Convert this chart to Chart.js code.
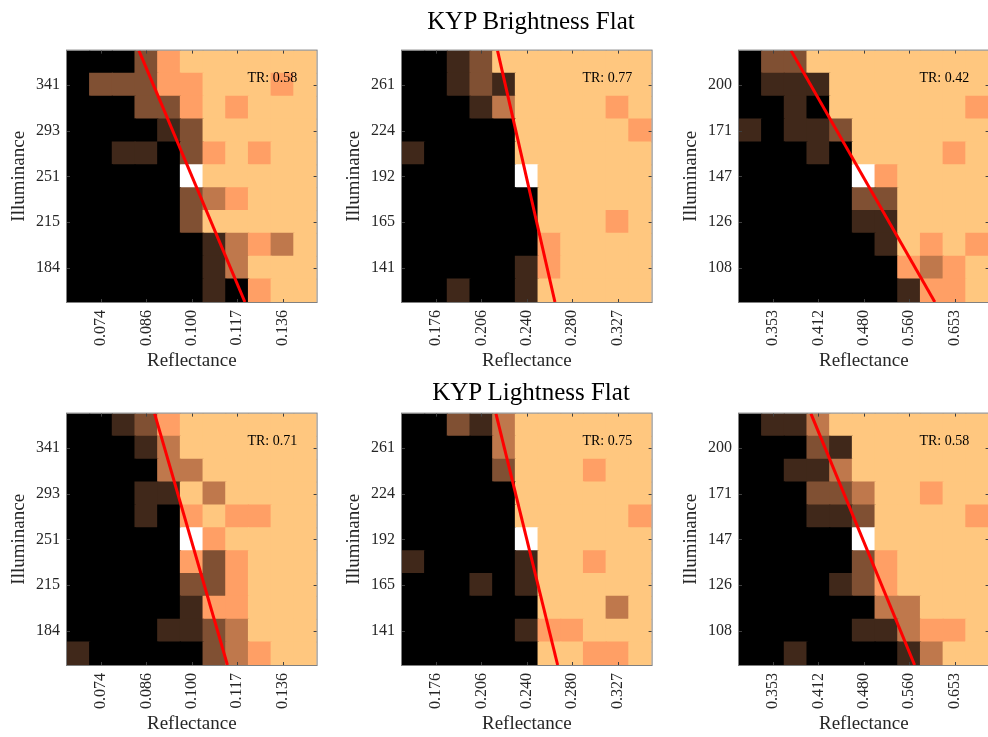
<!DOCTYPE html>
<html>
<head>
<meta charset="utf-8">
<script src="https://cdn.jsdelivr.net/npm/chart.js@4.4.1/dist/chart.umd.min.js"></script>
<style>
html, body { margin: 0; padding: 0; width: 988px; height: 737px; overflow: hidden; background: #fff; }
canvas { position: absolute; }
.suptitle { position: absolute; left: 281px; width: 500px; text-align: center;
  font: 25px/30px "Liberation Serif", "Times New Roman", serif; color: #000; z-index: 2; }
</style>
</head>
<body>
<div class="suptitle" style="top:6px">KYP Brightness Flat</div>
<div class="suptitle" style="top:377px">KYP Lightness Flat</div>
<script>
// cell levels 0..5 (copper map), rows top -> bottom; null = reference cell (white)
const brightA = [
  [0,0,0,2,4,5,5,5,5,5,5],
  [0,2,2,2,4,4,5,5,5,4,5],
  [0,0,0,2,2,4,5,4,5,5,5],
  [0,0,0,0,1,2,5,5,5,5,5],
  [0,0,1,1,0,2,4,5,4,5,5],
  [0,0,0,0,0,null,5,5,5,5,5],
  [0,0,0,0,0,2,3,4,5,5,5],
  [0,0,0,0,0,2,5,5,5,5,5],
  [0,0,0,0,0,0,1,3,4,3,5],
  [0,0,0,0,0,0,1,3,5,5,5],
  [0,0,0,0,0,0,1,0,4,5,5]
];
const brightB = [
  [0,0,1,2,5,5,5,5,5,5,5],
  [0,0,1,2,1,5,5,5,5,5,5],
  [0,0,0,1,3,5,5,5,5,4,5],
  [0,0,0,0,0,5,5,5,5,5,4],
  [1,0,0,0,0,5,5,5,5,5,5],
  [0,0,0,0,0,null,5,5,5,5,5],
  [0,0,0,0,0,0,5,5,5,5,5],
  [0,0,0,0,0,0,5,5,5,4,5],
  [0,0,0,0,0,0,4,5,5,5,5],
  [0,0,0,0,0,1,4,5,5,5,5],
  [0,0,1,0,0,1,5,5,5,5,5]
];
const brightC = [
  [0,2,2,5,5,5,5,5,5,5,5],
  [0,1,1,1,5,5,5,5,5,5,5],
  [0,0,1,0,5,5,5,5,5,5,4],
  [1,0,1,1,2,5,5,5,5,5,5],
  [0,0,0,1,0,5,5,5,5,4,5],
  [0,0,0,0,0,null,4,5,5,5,5],
  [0,0,0,0,0,2,2,5,5,5,5],
  [0,0,0,0,0,1,1,5,5,5,5],
  [0,0,0,0,0,0,1,5,4,5,4],
  [0,0,0,0,0,0,0,4,3,4,5],
  [0,0,0,0,0,0,0,1,4,4,5]
];
const lightA = [
  [0,0,1,2,4,5,5,5,5,5,5],
  [0,0,0,1,3,5,5,5,5,5,5],
  [0,0,0,0,3,3,5,5,5,5,5],
  [0,0,0,1,1,5,3,5,5,5,5],
  [0,0,0,1,0,4,5,4,4,5,5],
  [0,0,0,0,0,null,4,5,5,5,5],
  [0,0,0,0,0,4,2,4,5,5,5],
  [0,0,0,0,0,2,2,4,5,5,5],
  [0,0,0,0,0,1,4,4,5,5,5],
  [0,0,0,0,1,1,2,3,5,5,5],
  [1,0,0,0,0,0,2,3,4,5,5]
];
const lightB = [
  [0,0,2,1,3,5,5,5,5,5,5],
  [0,0,0,0,3,5,5,5,5,5,5],
  [0,0,0,0,2,5,5,5,4,5,5],
  [0,0,0,0,0,5,5,5,5,5,5],
  [0,0,0,0,0,5,5,5,5,5,4],
  [0,0,0,0,0,null,5,5,5,5,5],
  [1,0,0,0,0,1,5,5,4,5,5],
  [0,0,0,1,0,1,5,5,5,5,5],
  [0,0,0,0,0,0,5,5,5,3,5],
  [0,0,0,0,0,1,4,4,5,5,5],
  [0,0,0,0,0,0,5,5,4,4,5]
];
const lightC = [
  [0,1,1,3,5,5,5,5,5,5,5],
  [0,0,0,2,1,5,5,5,5,5,5],
  [0,0,1,1,3,5,5,5,5,5,5],
  [0,0,0,2,2,3,5,5,4,5,5],
  [0,0,0,1,1,2,5,5,5,5,4],
  [0,0,0,0,0,null,5,5,5,5,5],
  [0,0,0,0,0,2,4,5,5,5,5],
  [0,0,0,0,1,2,4,5,5,5,5],
  [0,0,0,0,0,0,3,3,5,5,5],
  [0,0,0,0,0,1,1,3,4,4,5],
  [0,0,1,0,0,0,0,1,3,5,5]
];

// tick labels (illuminance top -> bottom, reflectance left -> right)
const illumA = ['341', '293', '251', '215', '184'];
const illumB = ['261', '224', '192', '165', '141'];
const illumC = ['200', '171', '147', '126', '108'];
const reflA = ['0.074', '0.086', '0.100', '0.117', '0.136'];
const reflB = ['0.176', '0.206', '0.240', '0.280', '0.327'];
const reflC = ['0.353', '0.412', '0.480', '0.560', '0.653'];

const trValues = [0.58, 0.77, 0.42, 0.71, 0.75, 0.58];
// fitted line: column position where it meets top and bottom edge
const lineTopX = [3.17, 4.21, 2.29, 3.86, 4.14, 3.17];
const lineBottomX = [7.84, 6.74, 8.63, 7.07, 6.86, 7.74];

const copper = ['#000000', '#40281a', '#805033', '#bf784c', '#ff9f65', '#ffc77f'];
const FONT = '"Liberation Serif", "Times New Roman", serif';
const TXT = '#262626';

const PW = 254, PH = 256, YW = 67, XH = 72, PT = 12, PR = 12;
const spots = [[67, 46], [402, 46], [739, 46], [67, 409], [402, 409], [739, 409]];

const panelDecor = {
    id: 'panelDecor',
    afterDatasetsDraw(chart, args, opts) {
        const { ctx, chartArea: a, scales } = chart;
        ctx.save();
        ctx.strokeStyle = '#808080';
        ctx.lineWidth = 1;
        ctx.strokeRect(a.left - 0.5, a.top - 0.5, a.width + 1, a.height + 1);
        ctx.strokeStyle = '#404040';
        ctx.beginPath();
        scales.y.ticks.forEach(t => {
            const y = Math.round(scales.y.getPixelForValue(t.value)) + 0.5;
            ctx.moveTo(a.left, y); ctx.lineTo(a.left + 3, y);
            ctx.moveTo(a.right, y); ctx.lineTo(a.right - 3, y);
        });
        scales.x.ticks.forEach((t, i) => {
            if (!scales.x.getLabelForValue(t.value)) return;
            const x = Math.round(scales.x.getPixelForTick(i)) + 0.5;
            ctx.moveTo(x, a.top); ctx.lineTo(x, a.top + 3);
            ctx.moveTo(x, a.bottom); ctx.lineTo(x, a.bottom - 3);
        });
        ctx.stroke();
        ctx.font = '14px ' + FONT;
        ctx.fillStyle = '#000';
        ctx.textAlign = 'center';
        ctx.textBaseline = 'middle';
        ctx.fillText(opts.text, scales.xl.getPixelForValue(opts.at[0]), scales.yl.getPixelForValue(opts.at[1]));
        ctx.restore();
    }
};

function makePanel(i, grid, yLabels, xLabels) {
    const [px, py] = spots[i];
    const cv = document.createElement('canvas');
    cv.width = YW + PW + PR;
    cv.height = PT + PH + XH;
    cv.style.left = (px - YW) + 'px';
    cv.style.top = (py - PT) + 'px';
    document.body.appendChild(cv);

    const n = grid.length;
    const cats = grid[0].map((_, c) => c % 2 === 1 ? xLabels[(c - 1) / 2] : '');
    const yVals = yLabels.map((_, k) => n - (2 * k + 1) - 0.5);

    const cellSets = grid.slice().reverse().map(row => ({
        type: 'bar',
        data: row.map(() => 1),
        backgroundColor: row.map(v => v === null ? '#ffffff' : copper[v]),
        borderWidth: 0,
        barPercentage: 1,
        categoryPercentage: 1,
        inflateAmount: 0.6,
        grouped: false
    }));

    new Chart(cv.getContext('2d'), {
        type: 'bar',
        data: {
            labels: cats,
            datasets: cellSets.concat([{
                type: 'line',
                data: [{ x: lineTopX[i], y: n }, { x: lineBottomX[i], y: 0 }],
                xAxisID: 'xl',
                yAxisID: 'yl',
                borderColor: '#ff0000',
                borderWidth: 3,
                pointRadius: 0,
                clip: 0,
                order: -1
            }])
        },
        options: {
            responsive: false,
            animation: false,
            events: [],
            layout: { padding: { top: PT, right: PR, left: 0, bottom: 0 } },
            scales: {
                x: {
                    type: 'category',
                    stacked: true,
                    offset: true,
                    afterFit: s => { s.height = XH; },
                    grid: { display: false, drawTicks: false },
                    border: { display: false },
                    ticks: { autoSkip: false, minRotation: 90, maxRotation: 90, padding: 8,
                        color: TXT, font: { family: FONT, size: 16 } },
                    title: { display: true, text: 'Reflectance', color: TXT,
                        font: { family: FONT, size: 19 }, padding: { top: 0, bottom: 2 } }
                },
                y: {
                    type: 'linear',
                    stacked: true,
                    min: 0,
                    max: n,
                    afterBuildTicks: s => { s.ticks = yVals.slice().reverse().map(v => ({ value: v })); },
                    afterFit: s => { s.width = YW; },
                    grid: { display: false, drawTicks: false },
                    border: { display: false },
                    ticks: { autoSkip: false, padding: 7, color: TXT, font: { family: FONT, size: 16 },
                        callback: v => yLabels[yVals.indexOf(v)] },
                    title: { display: true, text: 'Illuminance', color: TXT,
                        font: { family: FONT, size: 19 }, padding: { top: 8, bottom: 0 } }
                },
                xl: { type: 'linear', min: 0, max: n, offset: false, display: false },
                yl: { type: 'linear', min: 0, max: n, offset: false, display: false }
            },
            plugins: {
                legend: { display: false },
                tooltip: { enabled: false },
                panelDecor: { text: 'TR: ' + trValues[i].toFixed(2), at: [9.05, 9.78] }
            }
        },
        plugins: [panelDecor]
    });
}

makePanel(0, brightA, illumA, reflA);
makePanel(1, brightB, illumB, reflB);
makePanel(2, brightC, illumC, reflC);
makePanel(3, lightA, illumA, reflA);
makePanel(4, lightB, illumB, reflB);
makePanel(5, lightC, illumC, reflC);
</script>
</body>
</html>
